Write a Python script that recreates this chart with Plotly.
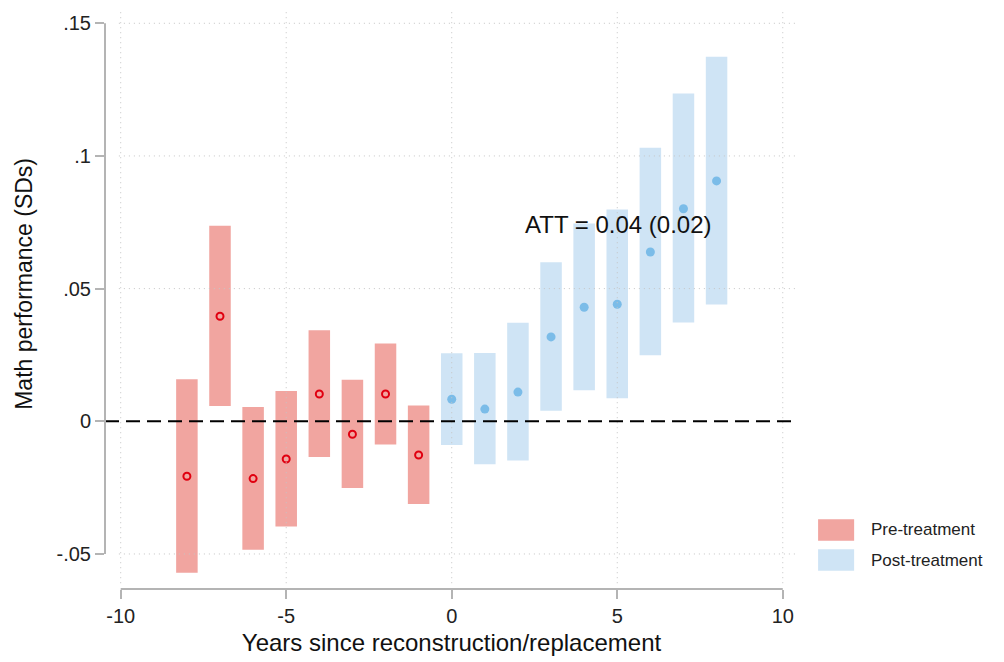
import plotly.graph_objects as go

# ---- data ----
pre_years = [-8, -7, -6, -5, -4, -3, -2, -1]
pre_est = [-0.0207, 0.0396, -0.0216, -0.0142, 0.0103, -0.0049, 0.0103, -0.0127]
pre_lo = [-0.0571, 0.0058, -0.0484, -0.0396, -0.0135, -0.0251, -0.0087, -0.0312]
pre_hi = [0.0158, 0.0737, 0.0054, 0.0114, 0.0343, 0.0157, 0.0293, 0.0060]

post_years = [0, 1, 2, 3, 4, 5, 6, 7, 8]
post_est = [0.0083, 0.0046, 0.0110, 0.0318, 0.0430, 0.0441, 0.0638, 0.0801, 0.0906]
post_lo = [-0.0089, -0.0162, -0.0148, 0.0040, 0.0117, 0.0087, 0.0249, 0.0372, 0.0440]
post_hi = [0.0256, 0.0257, 0.0371, 0.0599, 0.0745, 0.0798, 0.1031, 0.1235, 0.1374]

x_ticks = [-10, -5, 0, 5, 10]
x_ticklabels = ["-10", "-5", "0", "5", "10"]
y_ticks = [-0.05, 0, 0.05, 0.1, 0.15]
y_ticklabels = ["-.05", "0", ".05", ".1", ".15"]
y_grid = [-0.05, 0.05, 0.1, 0.15]

att_label = "ATT = 0.04 (0.02)"
legend_labels = ["Pre-treatment", "Post-treatment"]
x_title = "Years since reconstruction/replacement"
y_title = "Math performance (SDs)"

# ---- style ----
FONT = "Liberation Sans, Arial, sans-serif"
PRE_BAR = "#f1a5a0"
POST_BAR = "#cfe4f5"
PRE_MK = "#e00010"
POST_MK = "#7bbce8"
AXIS_COL = "#b4b4b4"
GRID_COL = "#c4c4c4"

fig = go.Figure()

fig.add_trace(go.Bar(
    x=pre_years, base=pre_lo, y=[h - l for h, l in zip(pre_hi, pre_lo)],
    width=0.65, marker=dict(color=PRE_BAR, line=dict(width=0)),
    name=legend_labels[0], showlegend=False, hoverinfo="skip"))
fig.add_trace(go.Bar(
    x=post_years, base=post_lo, y=[h - l for h, l in zip(post_hi, post_lo)],
    width=0.65, marker=dict(color=POST_BAR, line=dict(width=0)),
    name=legend_labels[1], showlegend=False, hoverinfo="skip"))

fig.add_trace(go.Scatter(
    x=pre_years, y=pre_est, mode="markers",
    marker=dict(symbol="circle-open", size=7, color=PRE_MK, line=dict(width=2, color=PRE_MK)),
    showlegend=False))
fig.add_trace(go.Scatter(
    x=post_years, y=post_est, mode="markers",
    marker=dict(symbol="circle", size=9, color=POST_MK),
    showlegend=False))

shapes = []
# gridlines drawn above bars (as in the reference)
for xv in x_ticks:
    shapes.append(dict(type="line", xref="x", yref="paper", x0=xv, x1=xv, y0=0.01, y1=1,
                       line=dict(color=GRID_COL, width=1, dash="1px,4px"), layer="above"))
for yv in y_grid:
    shapes.append(dict(type="line", xref="paper", yref="y", x0=0.02, x1=1, y0=yv, y1=yv,
                       line=dict(color=GRID_COL, width=1, dash="1px,4px"), layer="above"))
# zero reference line
shapes.append(dict(type="line", xref="paper", yref="y", x0=0, x1=1, y0=0, y1=0,
                   line=dict(color="black", width=2, dash="14px,7px"), layer="above"))
# axis lines spanning only the tick range
shapes.append(dict(type="line", xref="x", yref="paper", x0=x_ticks[0], x1=x_ticks[-1], y0=0, y1=0,
                   line=dict(color=AXIS_COL, width=2), layer="above"))
shapes.append(dict(type="line", xref="paper", yref="y", x0=0, x1=0, y0=y_ticks[0], y1=y_ticks[-1],
                   line=dict(color=AXIS_COL, width=2), layer="above"))

# manual legend (large swatches)
legend_colors = [PRE_BAR, POST_BAR]
legend_rows = [0.102, 0.050]
annotations = []
for lab, col, yc in zip(legend_labels, legend_colors, legend_rows):
    shapes.append(dict(type="rect", xref="paper", yref="paper", x0=1.029, x1=1.081,
                       y0=yc - 0.0185, y1=yc + 0.0185, fillcolor=col, line=dict(width=0)))
    annotations.append(dict(xref="paper", yref="paper", x=1.102, y=yc, text=lab, showarrow=False,
                            xanchor="left", yanchor="middle",
                            font=dict(family=FONT, size=17, color="#222")))

annotations.append(dict(xref="x", yref="y", x=2.15, y=0.074, text=att_label, showarrow=False,
                        xanchor="left", yanchor="middle",
                        font=dict(family=FONT, size=24, color="#111")))

# y-axis title (as rotated text)
annotations.append(dict(xref="paper", yref="paper", x=-0.117, y=0.527, text=y_title,
                        textangle=-90, showarrow=False, xanchor="center", yanchor="middle",
                        font=dict(family=FONT, size=23, color="#111")))

fig.update_layout(
    width=1004, height=662,
    margin=dict(l=105, r=206, t=10, b=73, pad=0),
    paper_bgcolor="white", plot_bgcolor="white",
    barmode="overlay",
    font=dict(family=FONT, size=20, color="#222"),
    shapes=shapes, annotations=annotations,
    showlegend=False,
)
fig.update_xaxes(
    range=[-10.474, 10.46], tickvals=x_ticks, ticktext=x_ticklabels,
    showgrid=False, zeroline=False, showline=False,
    ticks="outside", ticklen=9, tickwidth=2, tickcolor=AXIS_COL,
    tickfont=dict(size=20, color="#222"),
    title=dict(text=x_title, font=dict(size=24, color="#111"), standoff=8),
)
fig.update_yaxes(
    range=[-0.0632, 0.155], tickvals=y_ticks, ticktext=y_ticklabels,
    showgrid=False, zeroline=False, showline=False,
    ticks="outside", ticklen=9, tickwidth=2, tickcolor=AXIS_COL,
    tickfont=dict(size=20, color="#222"),
)

fig.write_html("out.html")
